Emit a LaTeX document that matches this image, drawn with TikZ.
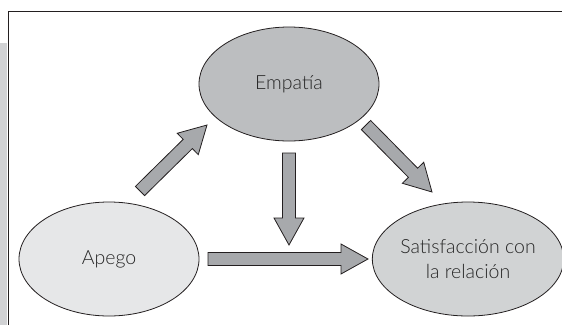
\documentclass[tikz,border=0pt]{standalone}
\usepackage{fontspec}
\setmainfont{Lato}[UprightFont=* Light]
\usepackage{tikz}
\usetikzlibrary{shapes.geometric,calc}
\definecolor{inkline}{HTML}{231F20}
\definecolor{empfill}{HTML}{BCBEC0}
\definecolor{apefill}{HTML}{E6E7E8}
\definecolor{satfill}{HTML}{D1D3D4}
\definecolor{arrfill}{HTML}{A7A9AC}
\definecolor{stripfill}{HTML}{D1D2D4}

% block arrow between two named points
\newcommand{\blockarrow}[2]{%
  \path[barrow] let \p1=(#1), \p2=(#2),
    \n1={veclen(\x2-\x1,\y2-\y1)}, \n2={atan2(\y2-\y1,\x2-\x1)} in
    [shift={(\p1)}, rotate=\n2]
    (0pt,-6.5pt) -- (\n1-27pt,-6.5pt) -- (\n1-27pt,-15pt) -- (\n1,0pt)
    -- (\n1-27pt,15pt) -- (\n1-27pt,6.5pt) -- (0pt,6.5pt) -- cycle;}

\begin{document}
\begin{tikzpicture}[
  x=1pt, y=-1pt,
  concept/.style={ellipse, draw=inkline, line width=0.8pt, fill=#1,
    minimum width=180pt, minimum height=114pt, inner sep=0pt,
    text=black!85, align=center, font=\fontsize{19.5}{25.5}\selectfont},
  barrow/.style={draw=inkline, line width=0.8pt, fill=arrfill, line join=miter}
]
  \useasboundingbox (0,0) rectangle (562,325);
  % frame and side strip
  \fill[stripfill] (0,43) rectangle (7,325);
  \draw[inkline, line width=1.2pt] (8.5,325) -- (8.5,11.5) -- (562,11.5);

  \node[concept=empfill] (empatia) at (289,84)  {Empatía};
  \node[concept=apefill] (apego)   at (109,259) {Apego};
  \node[concept=satfill] (satisf)  at (468,259) {Satisfacción con\\la relación};

  \coordinate (ae1) at (140,191);
  \coordinate (ae2) at (207,125);
  \coordinate (es1) at (366,125);
  \coordinate (es2) at (432,192);
  \coordinate (em1) at (289,153);
  \coordinate (em2) at (289,245);
  \coordinate (as1) at (208,259);
  \coordinate (as2) at (368,259);

  \blockarrow{ae1}{ae2}
  \blockarrow{es1}{es2}
  \blockarrow{em1}{em2}
  \blockarrow{as1}{as2}
\end{tikzpicture}
\end{document}
